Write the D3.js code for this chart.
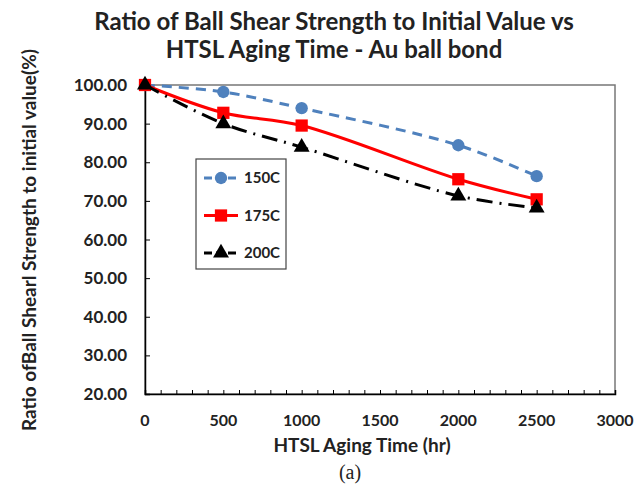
<!doctype html>
<html lang="en">
	<head>
		<meta charset="UTF-8">
		<title>Ball Shear Strength vs HTSL Aging Time</title>
		<style>
			body { margin: 0; background: #fff; }
			.chart text { font-family: Lato, "Open Sans", sans-serif; font-weight: bold; fill: #222; }
			.chart .caption { font-family: "Liberation Serif", serif; font-weight: normal; }
		</style>
	</head>
	<body>
		<svg class="chart"></svg>

		<script src="https://d3js.org/d3.v7.min.js"></script>
		<script>

			// Data Set
			var hours = [0, 500, 1000, 2000, 2500];
			var s150 = [100, 98.2, 94.0, 84.4, 76.4];
			var s175 = [100, 92.8, 89.5, 75.6, 70.4];
			var s200 = [100, 90.0, 83.9, 71.3, 68.2];
			var seriesNames = ["150C", "175C", "200C"];
			var xTicks = [0, 500, 1000, 1500, 2000, 2500, 3000];
			var yTicks = [20, 30, 40, 50, 60, 70, 80, 90, 100];

			var svgWidth = 644, svgHeight = 497;
			var plot = {left: 145, right: 615, top: 85, bottom: 394};

			var svg = d3.select("svg")
				.attr("width", svgWidth)
				.attr("height", svgHeight);

			var xScale = d3.scaleLinear().domain([0, 3000]).range([plot.left, plot.right]);
			var yScale = d3.scaleLinear().domain([20, 100]).range([plot.bottom, plot.top]);

			// Title
			svg.append("text").attr("x", 334).attr("y", 30).attr("text-anchor", "middle")
				.style("font-size", "24px").text("Ratio of Ball Shear Strength to Initial Value vs");
			svg.append("text").attr("x", 334).attr("y", 58).attr("text-anchor", "middle")
				.style("font-size", "24px").text("HTSL Aging Time - Au ball bond");

			// plot frame
			svg.append("rect")
				.attr("x", plot.left).attr("y", plot.top)
				.attr("width", plot.right - plot.left).attr("height", plot.bottom - plot.top)
				.attr("fill", "none").attr("stroke", "#777").attr("stroke-width", 1.5);

			// Y axis (ticks pointing inward)
			var yAxis = svg.append("g")
				.attr("transform", "translate(" + plot.left + ",0)")
				.call(d3.axisRight(yScale).tickValues(yTicks).tickSize(5).tickFormat(""));
			yAxis.select(".domain").attr("stroke", "#000").attr("stroke-width", 1.5);

			svg.selectAll(".ylabel")
				.data(yTicks)
				.enter()
				.append("text")
				.attr("class", "ylabel")
				.attr("x", 127)
				.attr("y", function(d) { return yScale(d) + 6; })
				.attr("text-anchor", "end")
				.style("font-size", "17px")
				.text(function(d) { return d.toFixed(2); });

			// X axis, minor ticks every 100 pointing up
			var xAxis = svg.append("g")
				.attr("transform", "translate(0," + plot.bottom + ")")
				.call(d3.axisTop(xScale).tickValues(d3.range(0, 3001, 100)).tickSize(4).tickFormat(""));
			xAxis.select(".domain").attr("stroke", "#000").attr("stroke-width", 1.5);

			svg.selectAll(".xlabel")
				.data(xTicks)
				.enter()
				.append("text")
				.attr("class", "xlabel")
				.attr("x", function(d) { return xScale(d); })
				.attr("y", 426)
				.attr("text-anchor", "middle")
				.style("font-size", "16px")
				.text(function(d) { return d; });

			// axis titles
			svg.append("text").attr("x", 362).attr("y", 452).attr("text-anchor", "middle")
				.style("font-size", "19px").text("HTSL Aging Time (hr)");
			svg.append("text")
				.attr("transform", "translate(36,240) rotate(-90)")
				.attr("text-anchor", "middle")
				.style("font-size", "19px")
				.text("Ratio ofBall Shearl Strength to initial value(%)");
			svg.append("text").attr("class", "caption").attr("x", 350).attr("y", 479)
				.attr("text-anchor", "middle").style("font-size", "20px").text("(a)");

			// series
			var series = [
				{name: seriesNames[0], values: s150, color: "#4f81bd", dash: "10,7", marker: "circle"},
				{name: seriesNames[1], values: s175, color: "#ff0000", dash: null, marker: "square"},
				{name: seriesNames[2], values: s200, color: "#000000", dash: "16,7,2,7", marker: "triangle"}
			];

			var line = d3.line()
				.x(function(d) { return xScale(d[0]); })
				.y(function(d) { return yScale(d[1]); })
				.curve(d3.curveCatmullRom.alpha(0.5));

			function markerPath(type) {
				if (type == "circle") return d3.symbol(d3.symbolCircle, 120)();
				if (type == "square") return d3.symbol(d3.symbolSquare, 150)();
				return d3.symbol(d3.symbolTriangle, 110)();
			}

			series.forEach(function(s) {
				var pts = hours.map(function(h, i) { return [h, s.values[i]]; });
				svg.append("path")
					.datum(pts)
					.attr("d", line)
					.attr("fill", "none")
					.attr("stroke", s.color)
					.attr("stroke-width", 3)
					.attr("stroke-dasharray", s.dash);
				svg.selectAll(".m" + s.marker)
					.data(pts)
					.enter()
					.append("path")
					.attr("class", "m" + s.marker)
					.attr("d", markerPath(s.marker))
					.attr("fill", s.color)
					.attr("transform", function(d) {
						return "translate(" + xScale(d[0]) + "," + yScale(d[1]) + ")";
					});
			});

			// Legend
			var legend = svg.append("g").attr("transform", "translate(196,159)");
			legend.append("rect")
				.attr("width", 90).attr("height", 110)
				.attr("fill", "#fff").attr("stroke", "#444").attr("stroke-width", 1.2);
			series.forEach(function(s, i) {
				var y = 19 + i * 37.5;
				legend.append("line")
					.attr("x1", 8).attr("x2", 42).attr("y1", y).attr("y2", y)
					.attr("stroke", s.color).attr("stroke-width", 3)
					.attr("stroke-dasharray", s.dash ? "8,4" : null);
				legend.append("path")
					.attr("d", markerPath(s.marker))
					.attr("fill", s.color)
					.attr("transform", "translate(25," + y + ")");
				legend.append("text")
					.attr("x", 48).attr("y", y + 5)
					.style("font-size", "15px")
					.text(s.name);
			});

		</script>
	</body>
</html>
